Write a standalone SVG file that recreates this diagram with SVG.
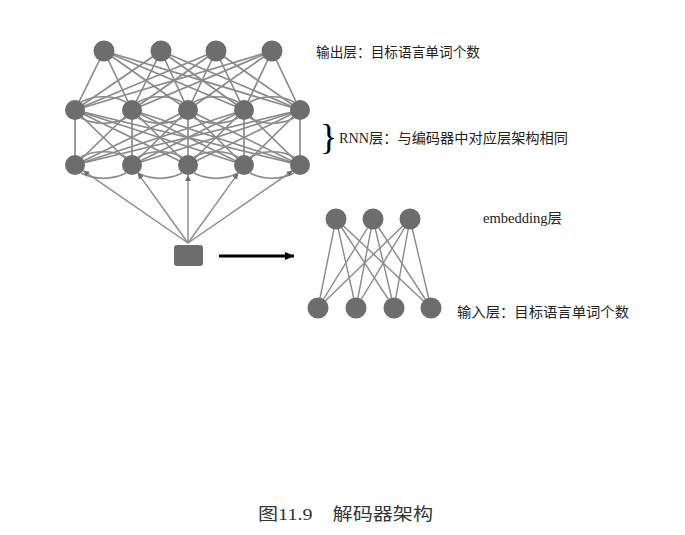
<svg xmlns="http://www.w3.org/2000/svg" width="685" height="535" viewBox="0 0 685 535">
<style>
.ln{stroke:#8a8a8a;stroke-width:1.7;fill:none}
.arc{stroke:#8a8a8a;stroke-width:1.7;fill:none}
.nd{fill:#6d6d6d}
.t{font-family:"Liberation Serif","Noto Sans CJK SC",serif;fill:#222;font-size:14px}
</style>
<defs>
<marker id="ah" markerUnits="userSpaceOnUse" markerWidth="7" markerHeight="7" refX="6" refY="3.5" orient="auto">
<path d="M0,0.5 L6,3.5 L0,6.5 z" fill="#6d6d6d"/>
</marker>
<marker id="bh" markerUnits="userSpaceOnUse" markerWidth="10" markerHeight="9" refX="9" refY="4.5" orient="auto">
<path d="M0,0.5 L9,4.5 L0,8.5 z" fill="#000"/>
</marker>
</defs>
<rect width="685" height="535" fill="#fff"/>
<g id="connectors">
<g class="ln">
<line x1="104" y1="51" x2="75" y2="110"/><line x1="104" y1="51" x2="132" y2="110"/><line x1="104" y1="51" x2="188" y2="110"/><line x1="104" y1="51" x2="244" y2="110"/><line x1="104" y1="51" x2="300" y2="110"/>
<line x1="161" y1="51" x2="75" y2="110"/><line x1="161" y1="51" x2="132" y2="110"/><line x1="161" y1="51" x2="188" y2="110"/><line x1="161" y1="51" x2="244" y2="110"/><line x1="161" y1="51" x2="300" y2="110"/>
<line x1="216" y1="51" x2="75" y2="110"/><line x1="216" y1="51" x2="132" y2="110"/><line x1="216" y1="51" x2="188" y2="110"/><line x1="216" y1="51" x2="244" y2="110"/><line x1="216" y1="51" x2="300" y2="110"/>
<line x1="272" y1="51" x2="75" y2="110"/><line x1="272" y1="51" x2="132" y2="110"/><line x1="272" y1="51" x2="188" y2="110"/><line x1="272" y1="51" x2="244" y2="110"/><line x1="272" y1="51" x2="300" y2="110"/>
</g>
<g class="ln">
<line x1="75" y1="165" x2="75" y2="110"/><line x1="75" y1="165" x2="132" y2="110"/><line x1="75" y1="165" x2="188" y2="110"/><line x1="75" y1="165" x2="244" y2="110"/><line x1="75" y1="165" x2="300" y2="110"/>
<line x1="132" y1="165" x2="75" y2="110"/><line x1="132" y1="165" x2="132" y2="110"/><line x1="132" y1="165" x2="188" y2="110"/><line x1="132" y1="165" x2="244" y2="110"/><line x1="132" y1="165" x2="300" y2="110"/>
<line x1="188" y1="165" x2="75" y2="110"/><line x1="188" y1="165" x2="132" y2="110"/><line x1="188" y1="165" x2="188" y2="110"/><line x1="188" y1="165" x2="244" y2="110"/><line x1="188" y1="165" x2="300" y2="110"/>
<line x1="244" y1="165" x2="75" y2="110"/><line x1="244" y1="165" x2="132" y2="110"/><line x1="244" y1="165" x2="188" y2="110"/><line x1="244" y1="165" x2="244" y2="110"/><line x1="244" y1="165" x2="300" y2="110"/>
<line x1="300" y1="165" x2="75" y2="110"/><line x1="300" y1="165" x2="132" y2="110"/><line x1="300" y1="165" x2="188" y2="110"/><line x1="300" y1="165" x2="244" y2="110"/><line x1="300" y1="165" x2="300" y2="110"/>
</g>
<g class="arc">
<path d="M81,102 C94,95 113,95 126,102"/><path d="M81,118 C94,125 113,125 126,118"/>
<path d="M138,102 C151,95 169,95 182,102"/><path d="M138,118 C151,125 169,125 182,118"/>
<path d="M194,102 C207,95 225,95 238,102"/><path d="M194,118 C207,125 225,125 238,118"/>
<path d="M250,102 C263,95 281,95 294,102"/><path d="M250,118 C263,125 281,125 294,118"/>
</g>
<g class="arc">
<path d="M81,157 C94,150 113,150 126,157"/><path d="M81,173 C94,180 113,180 126,173"/>
<path d="M138,157 C151,150 169,150 182,157"/><path d="M138,173 C151,180 169,180 182,173"/>
<path d="M194,157 C207,150 225,150 238,157"/><path d="M194,173 C207,180 225,180 238,173"/>
<path d="M250,157 C263,150 281,150 294,157"/><path d="M250,173 C263,180 281,180 294,173"/>
</g>
<g class="ln" style="stroke-width:1.4">
<line x1="188" y1="243" x2="83.2" y2="170.7" marker-end="url(#ah)"/>
<line x1="188" y1="243" x2="137.8" y2="173.1" marker-end="url(#ah)"/>
<line x1="188" y1="243" x2="188" y2="175" marker-end="url(#ah)"/>
<line x1="188" y1="243" x2="238.2" y2="173.1" marker-end="url(#ah)"/>
<line x1="188" y1="243" x2="292.8" y2="170.7" marker-end="url(#ah)"/>
</g>
<line x1="219" y1="256" x2="294" y2="256" stroke="#000" stroke-width="2.8" marker-end="url(#bh)"/>
<g class="ln" style="stroke-width:1.4">
<line x1="336" y1="219" x2="318" y2="308"/><line x1="336" y1="219" x2="356" y2="308"/><line x1="336" y1="219" x2="394" y2="308"/><line x1="336" y1="219" x2="431" y2="308"/>
<line x1="373" y1="219" x2="318" y2="308"/><line x1="373" y1="219" x2="356" y2="308"/><line x1="373" y1="219" x2="394" y2="308"/><line x1="373" y1="219" x2="431" y2="308"/>
<line x1="410" y1="219" x2="318" y2="308"/><line x1="410" y1="219" x2="356" y2="308"/><line x1="410" y1="219" x2="394" y2="308"/><line x1="410" y1="219" x2="431" y2="308"/>
</g>
</g>
<g id="output-layer" class="nd">
<circle cx="104" cy="51" r="10.5"/><circle cx="161" cy="51" r="10.5"/><circle cx="216" cy="51" r="10.5"/><circle cx="272" cy="51" r="10.5"/>
</g>
<g id="rnn-upper" class="nd">
<circle cx="75" cy="110" r="10"/><circle cx="132" cy="110" r="10"/><circle cx="188" cy="110" r="10"/><circle cx="244" cy="110" r="10"/><circle cx="300" cy="110" r="10"/>
</g>
<g id="rnn-lower" class="nd">
<circle cx="75" cy="165" r="10"/><circle cx="132" cy="165" r="10"/><circle cx="188" cy="165" r="10"/><circle cx="244" cy="165" r="10"/><circle cx="300" cy="165" r="10"/>
</g>
<g id="input-node">
<rect x="174" y="245" width="29" height="21" rx="3" fill="#6d6d6d"/>
</g>
<g id="embedding-top" class="nd">
<circle cx="336" cy="219" r="10.5"/><circle cx="373" cy="219" r="10.5"/><circle cx="410" cy="219" r="10.5"/>
</g>
<g id="embedding-bottom" class="nd">
<circle cx="318" cy="308" r="10.5"/><circle cx="356" cy="308" r="10.5"/><circle cx="394" cy="308" r="10.5"/><circle cx="431" cy="308" r="10.5"/>
</g>
<g id="labels">
<text class="t" x="316" y="57" textLength="164" lengthAdjust="spacingAndGlyphs">输出层：目标语言单词个数</text>
<text class="t" x="320" y="149" style="font-size:36px;fill:#000">}</text>
<text class="t" x="339" y="143" textLength="229" lengthAdjust="spacingAndGlyphs">RNN层：与编码器中对应层架构相同</text>
<text class="t" x="483" y="223" textLength="79" lengthAdjust="spacingAndGlyphs">embedding层</text>
<text class="t" x="457" y="317" textLength="172" lengthAdjust="spacingAndGlyphs">输入层：目标语言单词个数</text>
<text class="t" x="258" y="520" style="font-size:17px;fill:#333" textLength="175" lengthAdjust="spacingAndGlyphs">图11.9　解码器架构</text>
</g>
</svg>
